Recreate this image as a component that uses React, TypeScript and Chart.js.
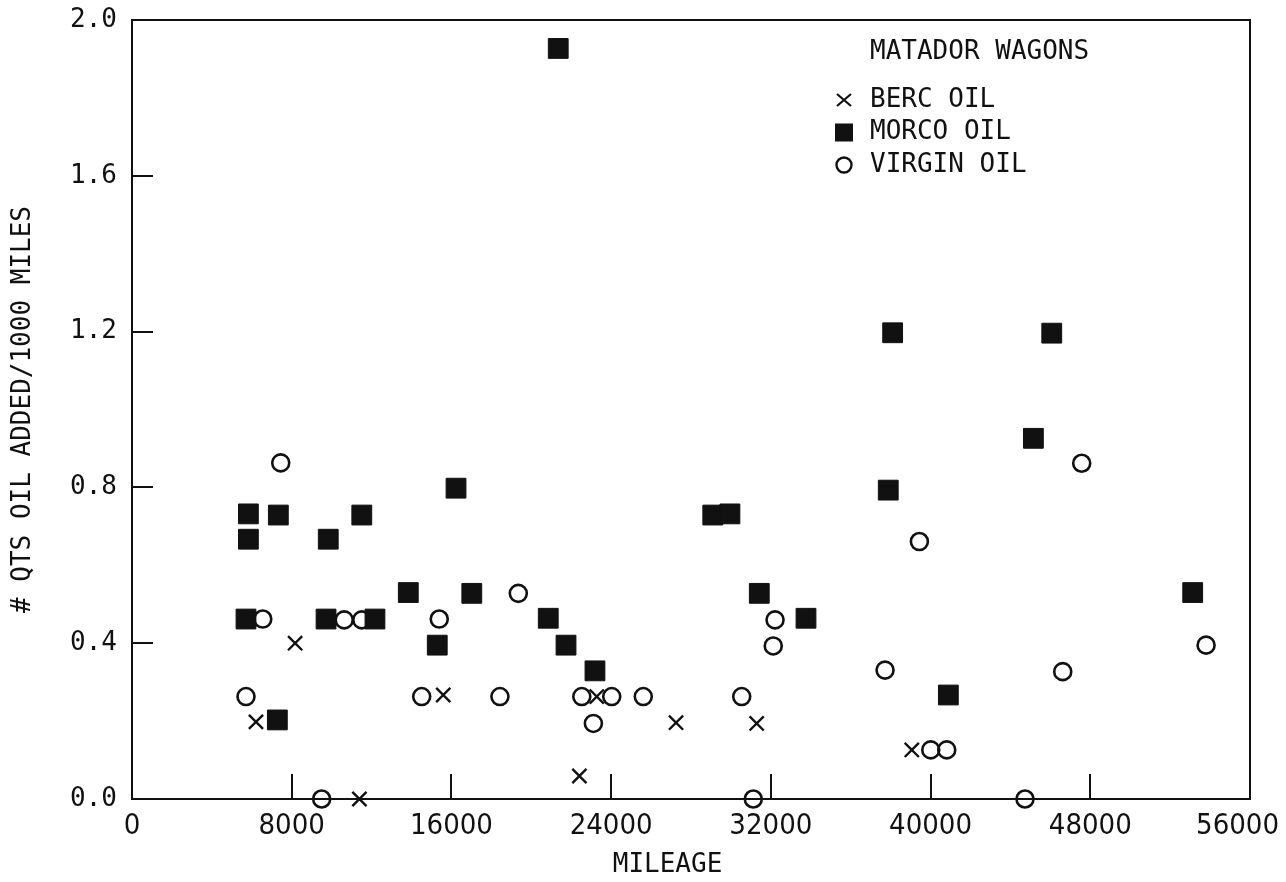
import React, { useEffect, useRef } from 'react';
import { Chart, registerables } from 'chart.js';

Chart.register(...registerables);

// ---- data ----
const xTickValues = [0, 8000, 16000, 24000, 32000, 40000, 48000, 56000];
const yTickValues = [0, 0.4, 0.8, 1.2, 1.6, 2.0];

const legendTitle = 'MATADOR WAGONS';
const seriesNames = ['BERC OIL', 'MORCO OIL', 'VIRGIN OIL'];
const xAxisTitle = 'MILEAGE';
const yAxisTitle = '# QTS OIL ADDED/1000 MILES';

const bercMileage = [6210, 8170, 11390, 15590, 22410, 23280, 27250, 31290, 39060];
const bercQts = [0.198, 0.4, 0.0, 0.267, 0.059, 0.263, 0.196, 0.194, 0.126];

const morcoMileage = [
  5830, 5830, 5710, 7330, 7280, 9830, 9720, 11510, 12170, 13840, 15290, 16230, 17020, 20850,
  21350, 21740, 23190, 29090, 29950, 31420, 33760, 37880, 38100, 40890, 45150, 46070, 53130,
];
const morcoQts = [
  0.732, 0.667, 0.462, 0.729, 0.203, 0.667, 0.462, 0.729, 0.462, 0.53, 0.395, 0.798, 0.528, 0.464,
  1.927, 0.395, 0.329, 0.729, 0.732, 0.528, 0.464, 0.793, 1.197, 0.267, 0.926, 1.196, 0.53,
];

const virginMileage = [
  5710, 6550, 7450, 9500, 10630, 11510, 14510, 15390, 18430, 19350, 22530, 23110, 24030, 25610,
  30540, 31120, 32120, 32210, 37720, 39440, 40010, 40810, 44730, 46620, 47570, 53800,
];
const virginQts = [
  0.263, 0.462, 0.863, 0.0, 0.46, 0.46, 0.263, 0.462, 0.263, 0.528, 0.263, 0.194, 0.263, 0.263,
  0.263, 0.0, 0.393, 0.46, 0.331, 0.661, 0.126, 0.126, 0.0, 0.327, 0.862, 0.395,
];

const toPoints = (xs: number[], ys: number[]) => xs.map((x, i) => ({ x, y: ys[i] }));

const INK = '#111111';
const MONO = "'DejaVu Sans Mono', 'Liberation Mono', monospace";
const NARROW = "'Liberation Sans Narrow', 'DejaVu Sans Condensed', sans-serif";

const framePlugin = {
  id: 'frame',
  afterDatasetsDraw(chart: any) {
    const { ctx, chartArea } = chart;
    ctx.save();
    ctx.strokeStyle = INK;
    ctx.lineWidth = 2;
    ctx.strokeRect(chartArea.left, chartArea.top, chartArea.right - chartArea.left, chartArea.bottom - chartArea.top);
    ctx.restore();
  },
};

const legendPlugin = {
  id: 'matadorLegend',
  afterDraw(chart: any) {
    const { ctx, chartArea } = chart;
    const markerX = chartArea.right - 406;
    const textX = chartArea.right - 380;
    const rows = [chartArea.top + 80, chartArea.top + 112.5, chartArea.top + 145];
    ctx.save();
    ctx.fillStyle = INK;
    ctx.strokeStyle = INK;
    ctx.font = `26px ${MONO}`;
    ctx.textBaseline = 'middle';
    ctx.textAlign = 'left';
    ctx.fillText(legendTitle, textX, chartArea.top + 32);
    seriesNames.forEach((name, i) => {
      ctx.fillText(name, textX, rows[i]);
    });
    // x marker
    ctx.lineWidth = 2.2;
    ctx.beginPath();
    const y0 = rows[0];
    ctx.moveTo(markerX - 7, y0 - 6);
    ctx.lineTo(markerX + 7, y0 + 6);
    ctx.moveTo(markerX - 7, y0 + 6);
    ctx.lineTo(markerX + 7, y0 - 6);
    ctx.stroke();
    // filled square
    ctx.fillRect(markerX - 9, rows[1] - 9, 18, 18);
    // open circle
    ctx.lineWidth = 2.4;
    ctx.beginPath();
    ctx.arc(markerX, rows[2], 7.5, 0, Math.PI * 2);
    ctx.stroke();
    ctx.restore();
  },
};

export default function App() {
  const canvasRef = useRef<HTMLCanvasElement | null>(null);

  useEffect(() => {
    const canvas = canvasRef.current;
    if (!canvas) return;
    const chart = new Chart(canvas, {
      type: 'scatter',
      data: {
        datasets: [
          {
            label: seriesNames[0],
            data: toPoints(bercMileage, bercQts),
            pointStyle: 'crossRot',
            pointRadius: 10,
            pointBorderWidth: 2.4,
            borderColor: INK,
            backgroundColor: INK,
            clip: false,
          },
          {
            label: seriesNames[1],
            data: toPoints(morcoMileage, morcoQts),
            pointStyle: 'rect',
            pointRadius: 14,
            pointBorderWidth: 1,
            borderColor: INK,
            backgroundColor: INK,
            clip: false,
          },
          {
            label: seriesNames[2],
            data: toPoints(virginMileage, virginQts),
            pointStyle: 'circle',
            pointRadius: 8.5,
            pointBorderWidth: 2.6,
            borderColor: INK,
            backgroundColor: 'rgba(255,255,255,0)',
            clip: false,
          },
        ],
      },
      options: {
        animation: false,
        responsive: false,
        devicePixelRatio: 1,
        events: [],
        layout: { padding: { left: 0, right: 36, top: 20, bottom: 0 } },
        plugins: {
          legend: { display: false },
          tooltip: { enabled: false },
          title: { display: false },
        },
        scales: {
          x: {
            type: 'linear',
            position: 'bottom',
            min: 0,
            max: 56000,
            afterBuildTicks: (scale: any) => {
              scale.ticks = xTickValues.map((value) => ({ value }));
            },
            afterFit: (scale: any) => {
              scale.height = 83;
              scale.paddingLeft = 0;
              scale.paddingRight = 0;
            },
            grid: {
              display: true,
              drawOnChartArea: false,
              drawTicks: true,
              tickLength: -25,
              color: INK,
              lineWidth: 2,
            },
            border: { display: false },
            ticks: {
              autoSkip: false,
              maxRotation: 0,
              minRotation: 0,
              padding: 35,
              color: INK,
              font: { family: NARROW, size: 29 },
              // the last label sits a little left of its tick in the original
              callback: (v: any) => (Number(v) === 56000 ? String(v) + '   ' : String(v)),
            },
            title: {
              display: true,
              text: xAxisTitle + '   ',
              color: INK,
              font: { family: MONO, size: 26 },
              padding: { top: 0, bottom: 1 },
            },
          },
          y: {
            type: 'linear',
            position: 'left',
            min: 0,
            max: 2,
            afterBuildTicks: (scale: any) => {
              scale.ticks = yTickValues.map((value) => ({ value }));
            },
            afterFit: (scale: any) => {
              scale.width = 132;
              scale.paddingTop = 0;
              scale.paddingBottom = 0;
            },
            grid: {
              display: true,
              drawOnChartArea: false,
              drawTicks: true,
              tickLength: -21,
              color: INK,
              lineWidth: 2,
            },
            border: { display: false },
            ticks: {
              padding: 36,
              color: INK,
              font: { family: MONO, size: 26 },
              callback: (v: any) => Number(v).toFixed(1),
            },
            title: {
              display: true,
              text: yAxisTitle,
              color: INK,
              font: { family: MONO, size: 26 },
              padding: { top: 8, bottom: 0 },
            },
          },
        },
      },
      plugins: [framePlugin, legendPlugin],
    } as any);
    return () => chart.destroy();
  }, []);

  return (
    <div style={{ position: 'absolute', left: 0, top: 0, width: 1286, height: 882, background: '#ffffff' }}>
      <canvas ref={canvasRef} width={1286} height={882} style={{ display: 'block' }} />
    </div>
  );
}
